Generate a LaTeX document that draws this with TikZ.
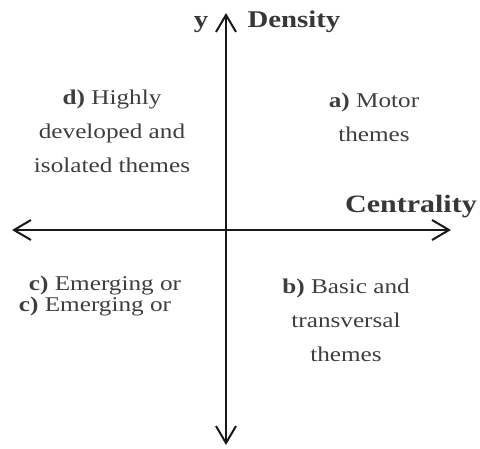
\documentclass[tikz,border=0pt]{standalone}
\usepackage{fontspec}
\setmainfont{Liberation Serif}[FakeStretch=1.2]
\usepackage{tikz}
\usetikzlibrary{arrows.meta, positioning}
\definecolor{mytext}{RGB}{62,62,62}
\definecolor{mybold}{RGB}{55,55,55}
\definecolor{myaxis}{RGB}{25,25,25}
\tikzset{
  axis/.style={{Straight Barb[length=17pt, width=20pt]}-{Straight Barb[length=17pt, width=20pt]},
    line width=2pt, color=myaxis},
  quadlabel/.style={align=center, text=mytext, inner sep=0pt,
    font=\fontsize{21}{34}\selectfont},
  axislabel/.style={text=mybold, inner sep=0pt, anchor=base}
}

\begin{document}
\begin{tikzpicture}[x=1pt, y=-1pt]
  \useasboundingbox (0,0) rectangle (480,448);
  % axis ends
  \coordinate (west) at (12,230);
  \coordinate (east) at (451,230);
  \coordinate (north) at (226,13);
  \coordinate (south) at (226,445);
  \draw[axis] (west) -- (east);
  \draw[axis] (south) -- (north);
  % axis labels
  \node[axislabel, font=\bfseries\fontsize{24}{28}\selectfont] (ylab) at (201,27) {y};
  \node[axislabel, font=\bfseries\fontsize{24}{28}\selectfont] (density) at (294,27) {Density};
  \node[axislabel, font=\bfseries\fontsize{25}{30}\selectfont] (centrality) at (411,212) {Centrality};
  % quadrants
  \node[quadlabel] (quadD) at (112,131) {\textbf{d)} Highly\\developed and\\isolated themes};
  \node[quadlabel] (quadA) at (374,117) {\textbf{a)} Motor\\themes};
  \node[quadlabel] (quadB) at (346,320) {\textbf{b)} Basic and\\transversal\\themes};
  \node[quadlabel, anchor=base] (quadC) at (105,290) {\textbf{c)} Emerging or};
  \node[quadlabel, anchor=base] (quadCdup) at (95,311) {\textbf{c)} Emerging or};
\end{tikzpicture}
\end{document}
